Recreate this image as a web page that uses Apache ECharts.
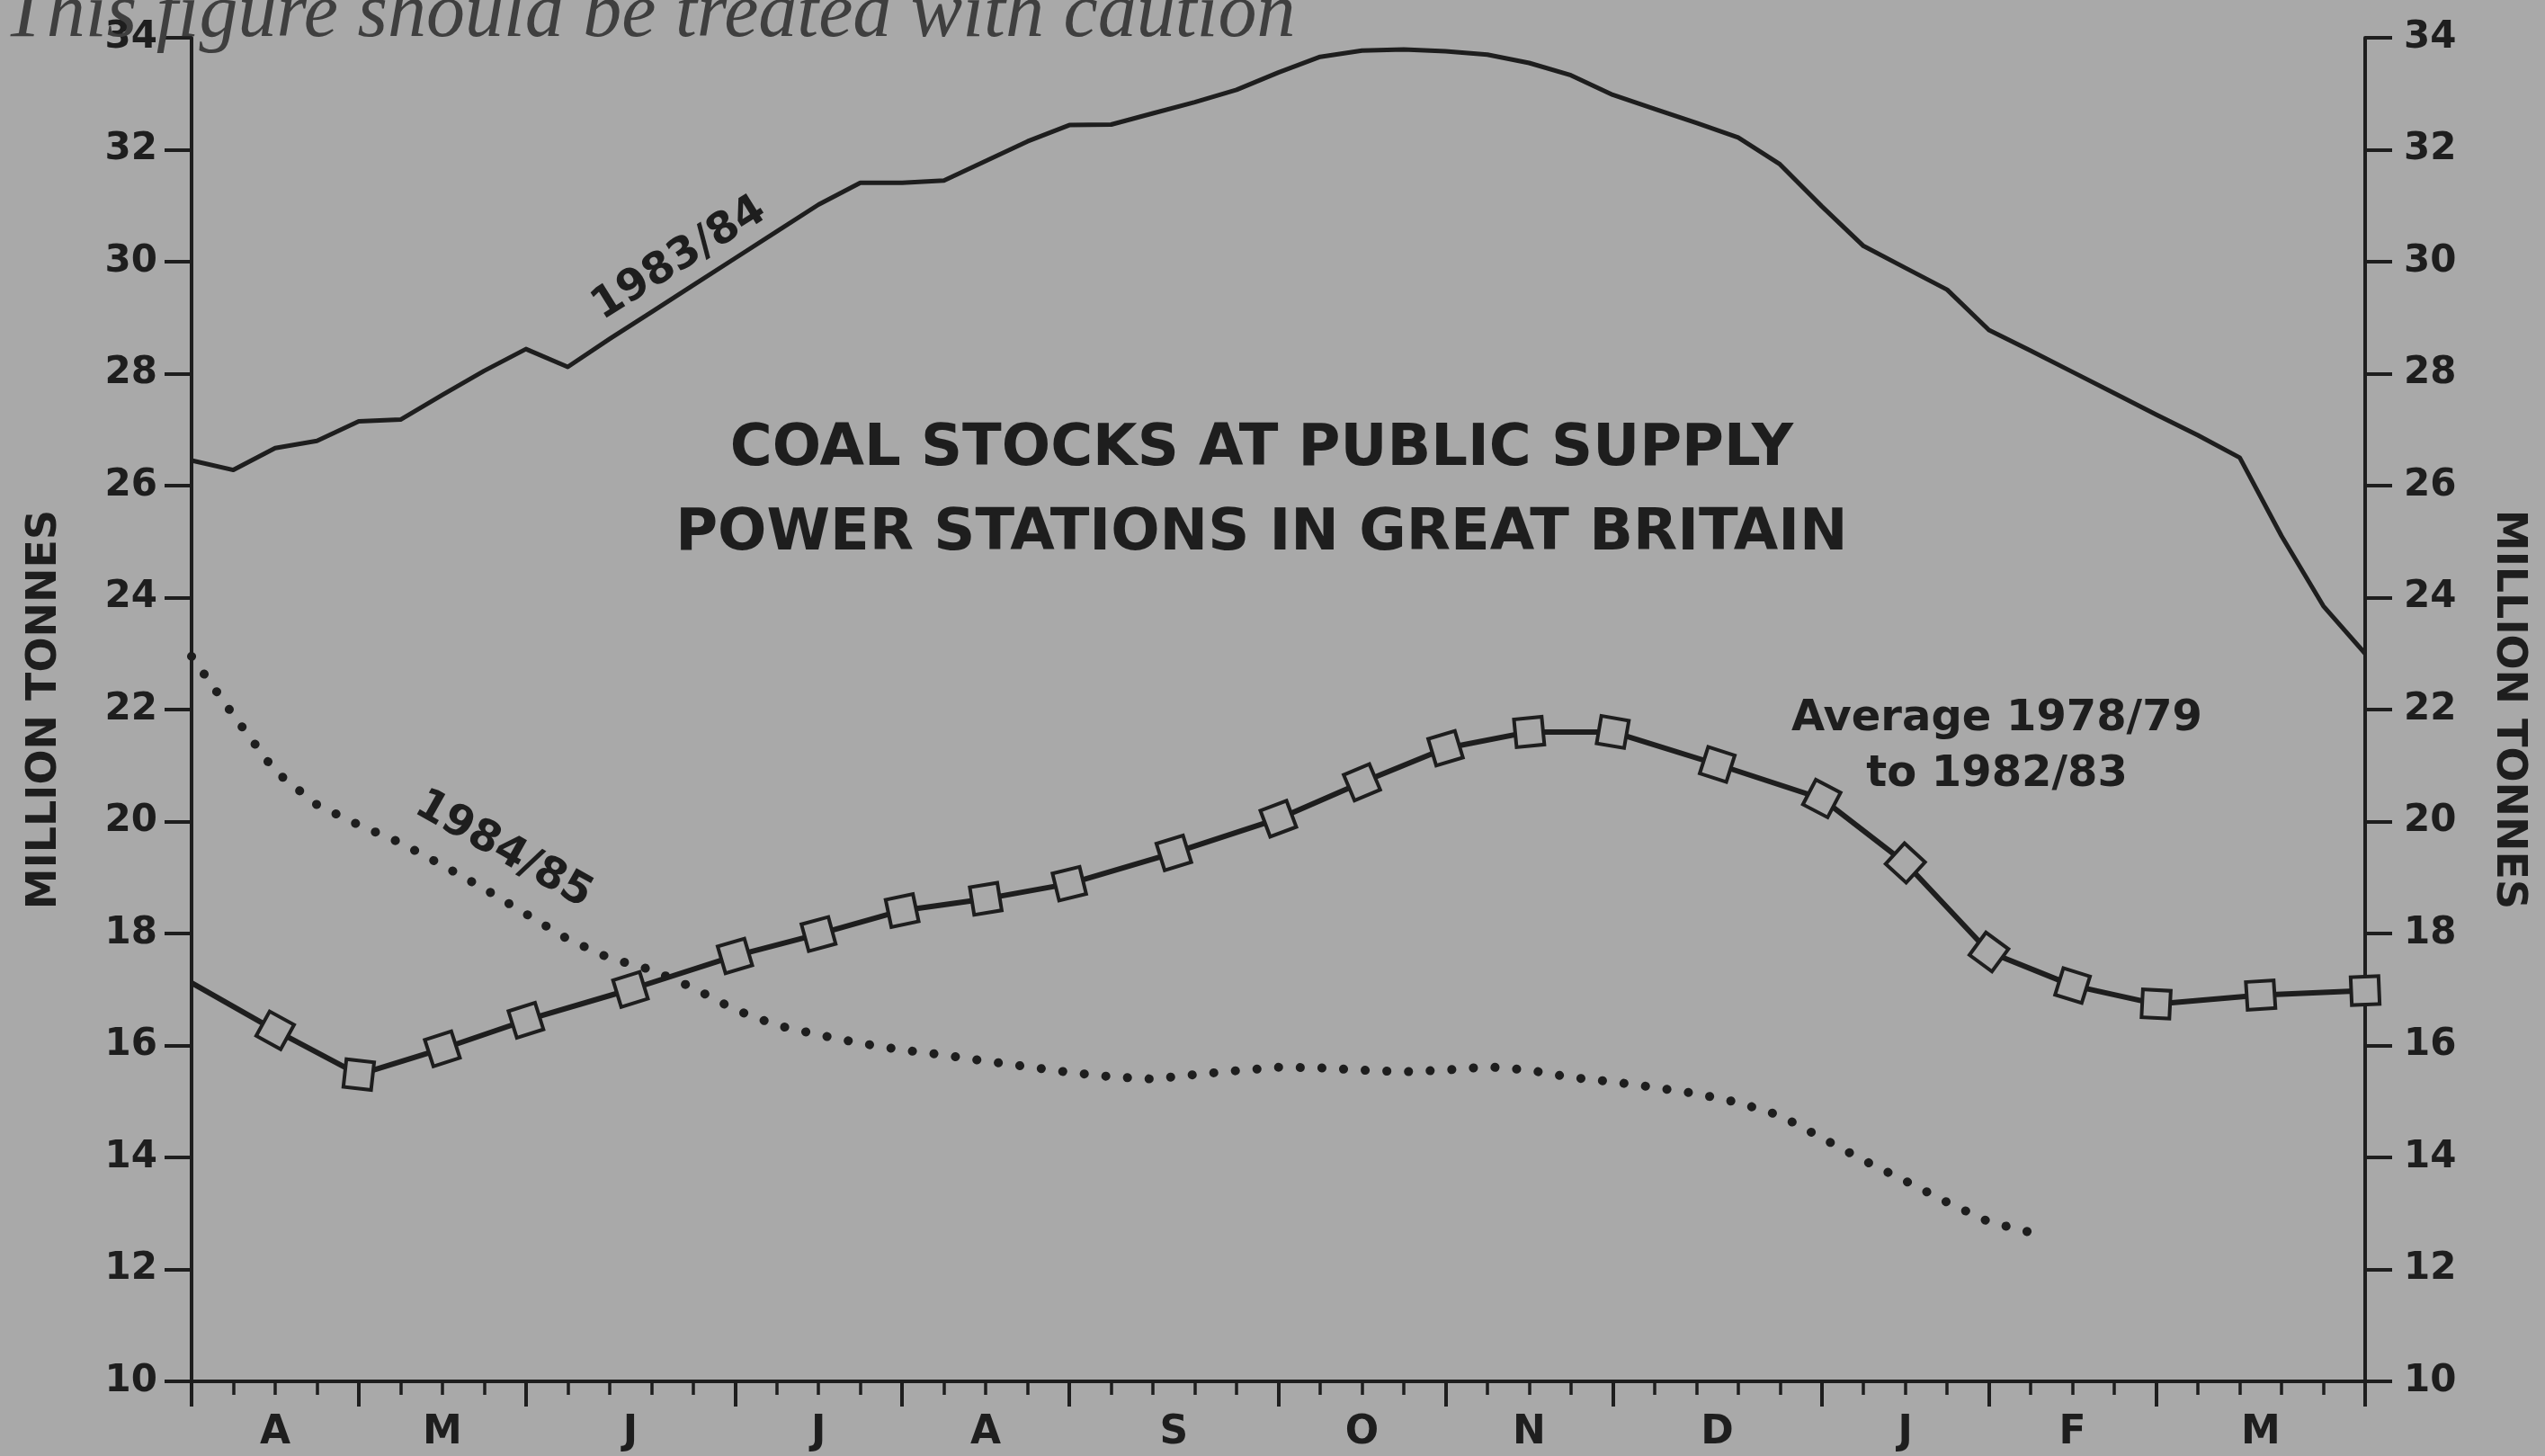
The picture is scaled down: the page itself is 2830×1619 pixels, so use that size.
<!DOCTYPE html>
<html>
<head>
<meta charset="utf-8">
<script src="https://cdn.jsdelivr.net/npm/echarts@6/dist/echarts.min.js"></script>
<style>
html,body{margin:0;padding:0;background:#a9a9a9;}
#c{width:2830px;height:1619px;}
</style>
</head>
<body>
<div id="c"></div>
<script>
// ---- data ----
const months = ['A','M','J','J','A','S','O','N','D','J','F','M'];
const monthWeeks = [4,4,5,4,4,5,4,4,5,4,4,5];
const yTickLabels = [10,12,14,16,18,20,22,24,26,28,30,32,34];

const weeks8384 = [0,1,2,3,4,5,6,7,8,9,10,11,12,13,14,15,16,17,18,19,20,21,22,23,24,25,26,27,28,29,30,31,32,33,34,35,36,37,38,39,40,41,42,43,44,45,46,47,48,49,50,51,52];
const stocks8384 = [26.45,26.28,26.67,26.80,27.15,27.18,27.62,28.05,28.44,28.12,28.62,29.10,29.58,30.06,30.54,31.02,31.41,31.41,31.45,31.80,32.15,32.44,32.45,32.65,32.85,33.07,33.38,33.66,33.77,33.79,33.76,33.70,33.55,33.33,32.98,32.73,32.48,32.22,31.74,30.99,30.28,29.89,29.50,28.78,28.41,28.03,27.65,27.27,26.90,26.50,25.10,23.85,23.00];

const weeks8485 = [0,1,2,3,4,5,6,7,8,9,10,11,12,13,14,15,16,17,18,19,20,21,22,23,24,25,26,27,28,29,30,31,32,33,34,35,36,37,38,39,40,41,42,43,44];
const stocks8485 = [22.95,21.90,20.90,20.30,19.94,19.62,19.22,18.80,18.35,17.90,17.56,17.35,17.03,16.64,16.36,16.19,16.04,15.92,15.83,15.72,15.62,15.52,15.44,15.40,15.48,15.55,15.61,15.60,15.56,15.53,15.56,15.62,15.56,15.43,15.35,15.25,15.14,14.98,14.75,14.35,13.95,13.58,13.20,12.85,12.66];

const avgWeeks = [0,2,4,6,8,10.5,13,15,17,19,21,23.5,26,28,30,32,34,36.5,39,41,43,45,47,49.5,52];
const avgValues = [17.12,16.27,15.48,15.94,16.45,17.00,17.60,17.99,18.41,18.62,18.89,19.44,20.05,20.70,21.31,21.60,21.60,21.02,20.41,19.26,17.67,17.07,16.74,16.90,16.98];

// ---- style ----
const BG = '#a9a9a9';
const INK = '#1e1e1e';
const FONT = 'DejaVu Sans';

const bounds = [0];
monthWeeks.forEach(w => bounds.push(bounds[bounds.length - 1] + w));
const mids = months.map((m, i) => (bounds[i] + bounds[i + 1]) / 2);

const chart = echarts.init(document.getElementById('c'), null, {renderer: 'canvas'});

function yAxisCfg(pos) {
  const left = pos === 'left';
  return {
    type: 'value', min: 10, max: 34, interval: 2, position: pos,
    axisLine: {show: true, onZero: false, lineStyle: {color: INK, width: 4}},
    axisTick: {show: true, length: 30, lineStyle: {color: INK, width: 4}},
    axisLabel: {
      show: true, margin: left ? 38 : 43, color: INK,
      fontFamily: FONT, fontWeight: 'bold', fontSize: 42,
      formatter: v => yTickLabels.indexOf(v) >= 0 ? String(v) : ''
    },
    splitLine: {show: false},
    name: 'MILLION TONNES', nameLocation: 'middle',
    nameGap: left ? 140 : 136, nameRotate: left ? 90 : -90,
    nameTextStyle: {color: INK, fontFamily: FONT, fontWeight: 'bold', fontSize: 46}
  };
}

const option = {
  backgroundColor: BG,
  animation: false,
  grid: {left: 213, right: 200, top: 42, bottom: 83, containLabel: false},
  xAxis: [
    {
      type: 'value', min: 0, max: 52, position: 'bottom',
      axisLine: {show: true, onZero: false, lineStyle: {color: INK, width: 4}},
      axisTick: {show: true, customValues: bounds, length: 28, lineStyle: {color: INK, width: 4}},
      axisLabel: {
        show: true, customValues: mids, margin: 36, color: INK,
        fontFamily: FONT, fontWeight: 'bold', fontSize: 44,
        formatter: v => months[mids.indexOf(v)] || ''
      },
      splitLine: {show: false}
    },
    {
      type: 'value', min: 0, max: 52, interval: 1, position: 'bottom',
      axisLine: {show: false},
      axisTick: {show: true, length: 15, lineStyle: {color: INK, width: 3.5}},
      axisLabel: {show: false},
      splitLine: {show: false}
    }
  ],
  yAxis: [yAxisCfg('left'), yAxisCfg('right')],
  series: [
    {
      id: 's8384', name: '1983/84', type: 'line', xAxisIndex: 0, yAxisIndex: 0,
      data: weeks8384.map((w, i) => [w, stocks8384[i]]),
      showSymbol: false, symbol: 'none',
      lineStyle: {color: INK, width: 5, join: 'round'}, z: 3
    },
    {
      id: 's8485', name: '1984/85', type: 'line', xAxisIndex: 0, yAxisIndex: 0,
      data: weeks8485.map((w, i) => [w, stocks8485[i]]),
      showSymbol: false, symbol: 'none',
      lineStyle: {color: INK, width: 10, type: [0.1, 24], cap: 'round', join: 'round'}, z: 2
    },
    {
      id: 'avg', name: 'Average 1978/79 to 1982/83', type: 'line', xAxisIndex: 0, yAxisIndex: 0,
      data: avgWeeks.map((w, i) => i === 0 ? {value: [w, avgValues[i]], symbol: 'none'} : [w, avgValues[i]]),
      symbol: 'rect', symbolSize: 31, showAllSymbol: true,
      itemStyle: {color: BG, borderColor: INK, borderWidth: 4},
      lineStyle: {color: INK, width: 6, join: 'round'}, z: 4
    }
  ]
};
chart.setOption(option);

// rotate the square markers along the line and place text annotations in data space
const px = p => chart.convertToPixel({xAxisIndex: 0, yAxisIndex: 0}, p);
const avgPts = avgWeeks.map((w, i) => px([w, avgValues[i]]));
const avgData = avgWeeks.map((w, i) => {
  if (i === 0) return {value: [w, avgValues[i]], symbol: 'none'};
  const a = avgPts[i - 1], b = avgPts[Math.min(i + 1, avgPts.length - 1)];
  const rot = -Math.atan2(b[1] - a[1], b[0] - a[0]) * 180 / Math.PI;
  return {value: [w, avgValues[i]], symbolRotate: rot};
});

function label(text, at, opts) {
  const p = px(at);
  return Object.assign({
    type: 'text', x: p[0], y: p[1], rotation: 0, z: 10,
    style: Object.assign({
      text: text, fill: INK, font: 'bold 40px "DejaVu Sans"',
      textAlign: 'center', textVerticalAlign: 'middle'
    }, opts.style || {})
  }, opts.el || {});
}

chart.setOption({
  series: [{id: 'avg', data: avgData}],
  graphic: [
    label('COAL STOCKS AT PUBLIC SUPPLY\nPOWER STATIONS IN GREAT BRITAIN', [25.6, 25.88],
      {style: {font: 'bold 64px "DejaVu Sans"', lineHeight: 94}}),
    label('1983/84', [11.67, 30.05], {el: {rotation: 32 * Math.PI / 180}, style: {font: 'bold 48px "DejaVu Sans"'}}),
    label('1984/85', [7.46, 19.49], {el: {rotation: -29.5 * Math.PI / 180}, style: {font: 'bold 48px "DejaVu Sans"'}}),
    label('Average 1978/79\nto 1982/83', [43.19, 21.34], {style: {font: 'bold 48px "DejaVu Sans"', lineHeight: 62}}),
    {
      type: 'text', x: 4, y: -26, z: 10,
      style: {text: 'This figure should be treated with caution', fill: '#3f3f3f',
              font: 'italic 86px "Liberation Serif"', textVerticalAlign: 'top'}
    }
  ]
});
</script>
</body>
</html>
